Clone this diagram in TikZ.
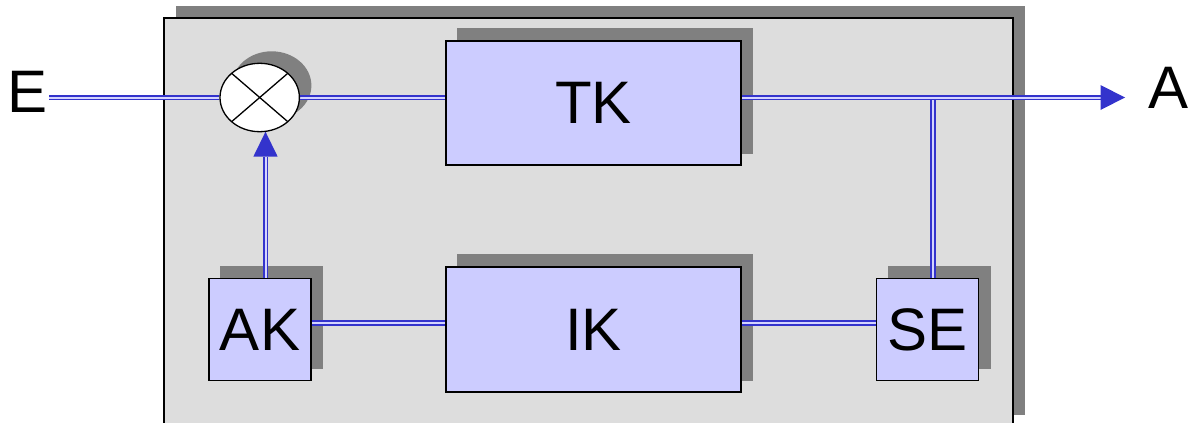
\documentclass[tikz,border=0pt]{standalone}
\usepackage{fontspec}
\setmainfont{Liberation Sans}
\usetikzlibrary{calc,shapes.geometric}
\definecolor{panel}{HTML}{DDDDDD}
\definecolor{shade}{HTML}{808080}
\definecolor{boxfill}{HTML}{CCCCFF}
\definecolor{wire}{HTML}{3333CC}
\definecolor{wiregap}{HTML}{D4D4FF}
\pgfdeclarelayer{bg}
\pgfdeclarelayer{shadowlayer}
\pgfdeclarelayer{wires}
\pgfsetlayers{bg,shadowlayer,wires,main}
\tikzset{
  blk/.style={draw=black, line width=1.3pt, fill=boxfill, inner sep=0pt,
    font=\fontsize{60}{60}\selectfont},
  lbl/.style={inner sep=0pt, font=\fontsize{60}{60}\selectfont},
  conn/.style={draw=wire, line width=1.8pt, double=wiregap, double distance=2pt},
  tipfill/.style={fill=wire},
  shadowfill/.style={fill=shade}
}
\begin{document}
\begin{tikzpicture}[x=1pt,y=-1pt]
\useasboundingbox (0,0) rectangle (1192,423);
\clip (0,0) rectangle (1192,423);
% nodes
\node[blk, minimum width=295pt, minimum height=124pt] (TK) at (593.5,103) {TK};
\node[blk, minimum width=295pt, minimum height=125pt] (IK) at (593.5,329.5) {IK};
\node[blk, minimum width=102pt, minimum height=102pt] (AK) at (260,329.7) {AK};
\node[blk, minimum width=102pt, minimum height=102pt] (SE) at (927.7,329.7) {SE};
\node[draw=black, line width=1.3pt, fill=white, ellipse, minimum width=79.4pt, minimum height=68.4pt, inner sep=0pt] (mult) at (259.7,97.5) {};
\draw[line width=1.3pt] ($(mult.center)+(-28.1,-24.2)$) -- ($(mult.center)+(28.1,24.2)$);
\draw[line width=1.3pt] ($(mult.center)+(-28.1,24.2)$) -- ($(mult.center)+(28.1,-24.2)$);
\node[lbl] (E) at (27.5,92) {E};
\node[lbl] (A) at (1168,87.5) {A};
\coordinate (ein) at (49,97.5);
\coordinate (aout) at (1100.5,97.5);
\coordinate (atip) at (1125,97.5);
\coordinate (branch) at (933,97.5);
\coordinate (upbase) at (265.5,156.7);
\coordinate (uptip) at (265.5,131.7);
% background panel
\begin{pgfonlayer}{bg}
\fill[shadowfill] (176,6) rectangle (1025,415);
\draw[fill=panel, line width=1.3pt] (164,18) rectangle (1013,427);
\end{pgfonlayer}
% shadows
\begin{pgfonlayer}{shadowlayer}
\foreach \n in {TK,IK,AK,SE}{
  \fill[shadowfill] ([shift={(11.5,-12)}]\n.south west) rectangle ([shift={(11.5,-12)}]\n.north east);
}
\fill[shadowfill] ($(mult.center)+(12,-12)$) ellipse [x radius=39.7pt, y radius=34.2pt];
\end{pgfonlayer}
% wires
\begin{pgfonlayer}{wires}
\draw[conn] (ein) -- (mult.west);
\draw[conn] (mult.east) -- (TK.west |- mult.east);
\draw[conn] (branch) -- (SE.north -| branch);
\draw[conn] (TK.east |- aout) -- (aout);
\fill[tipfill] ($(aout)+(0,-12.5)$) -- (atip) -- ($(aout)+(0,12.5)$) -- cycle;
\draw[conn] (AK.north -| upbase) -- (upbase);
\fill[tipfill] ($(upbase)+(-12.2,0)$) -- (uptip) -- ($(upbase)+(12.2,0)$) -- cycle;
\draw[conn] (AK.east |- 0,323) -- (IK.west |- 0,323);
\draw[conn] (IK.east |- 0,323) -- (SE.west |- 0,323);
\end{pgfonlayer}
\end{tikzpicture}
\end{document}
